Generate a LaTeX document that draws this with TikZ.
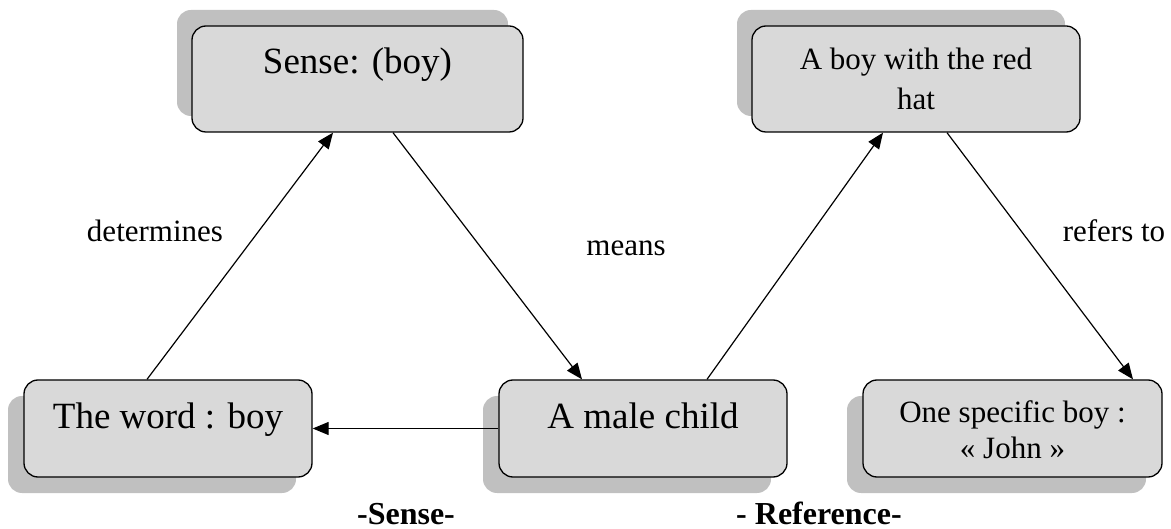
\documentclass[tikz,border=0pt]{standalone}
\usepackage{fontspec}
\setmainfont{Liberation Serif}
\usetikzlibrary{arrows.meta,shadows}

\definecolor{boxgrey}{HTML}{D9D9D9}
\definecolor{shadowgrey}{HTML}{C0C0C0}

\tikzset{
  box/.style={draw=black, line width=1.3pt, fill=boxgrey, rounded corners=14pt,
              inner sep=0pt, minimum height=106pt},
  topbox/.style={box, general shadow={fill=shadowgrey, shadow xshift=-15pt, shadow yshift=16pt}},
  botbox/.style={box, minimum height=97pt,
                 general shadow={fill=shadowgrey, shadow xshift=-16pt, shadow yshift=-16pt}},
  bigtext/.style={font=\fontsize{37}{44}\selectfont},
  smalltext/.style={font=\fontsize{31}{40}\selectfont},
  arr/.style={line width=1.2pt, -{Triangle[length=16pt,width=13pt]}},
  lab/.style={font=\fontsize{31}{37}\selectfont, anchor=base, inner sep=0pt},
  head/.style={font=\bfseries\fontsize{32}{38}\selectfont, anchor=base, inner sep=0pt},
}

\begin{document}
\begin{tikzpicture}[x=1pt, y=-1pt]
\useasboundingbox (0,0) rectangle (1171,529);

% upper row
\node[topbox, bigtext, minimum width=331pt, text height=40pt, text depth=50pt]
  (sense) at (357.5,79) {Sense: (boy)};
\node[topbox, smalltext, minimum width=328pt, text height=35pt, text depth=53pt]
  (hat) at (916,79) {\begin{tabular}[t]{@{}c@{}}A boy with the red\\hat\end{tabular}};

% lower row
\node[botbox, bigtext, minimum width=288pt, text height=40pt, text depth=39pt]
  (word) at (168,428.5) {The word : boy};
\node[botbox, bigtext, minimum width=288pt, text height=40pt, text depth=40pt]
  (male) at (643,428.5) {A male child};
\node[botbox, font=\fontsize{31}{36}\selectfont, minimum width=299pt, text height=35pt, text depth=46pt]
  (john) at (1012.5,428.5) {\begin{tabular}[t]{@{}c@{}}One specific boy :\\« John »\end{tabular}};

% connectors
\draw[arr] ([xshift=-21pt]word.north) -- ([xshift=-24.5pt]sense.south);
\draw[arr] ([xshift=35.5pt]sense.south) -- ([xshift=-61pt]male.north);
\draw[arr] ([xshift=64pt]male.north) -- ([xshift=-33pt]hat.south);
\draw[arr] ([xshift=31pt]hat.south) -- ([xshift=120.5pt]john.north);
\draw[arr] (male.west) -- (word.east);

% connector labels
\node[lab] (ldet) at (155,242) {determines};
\node[lab] (lmeans) at (626,256) {means};
\node[lab] (lref) at (1114,242) {refers to};

% headings
\node[head] (hsense) at (406,524) {-Sense-};
\node[head] (href) at (819,524) {- Reference-};
\end{tikzpicture}
\end{document}
